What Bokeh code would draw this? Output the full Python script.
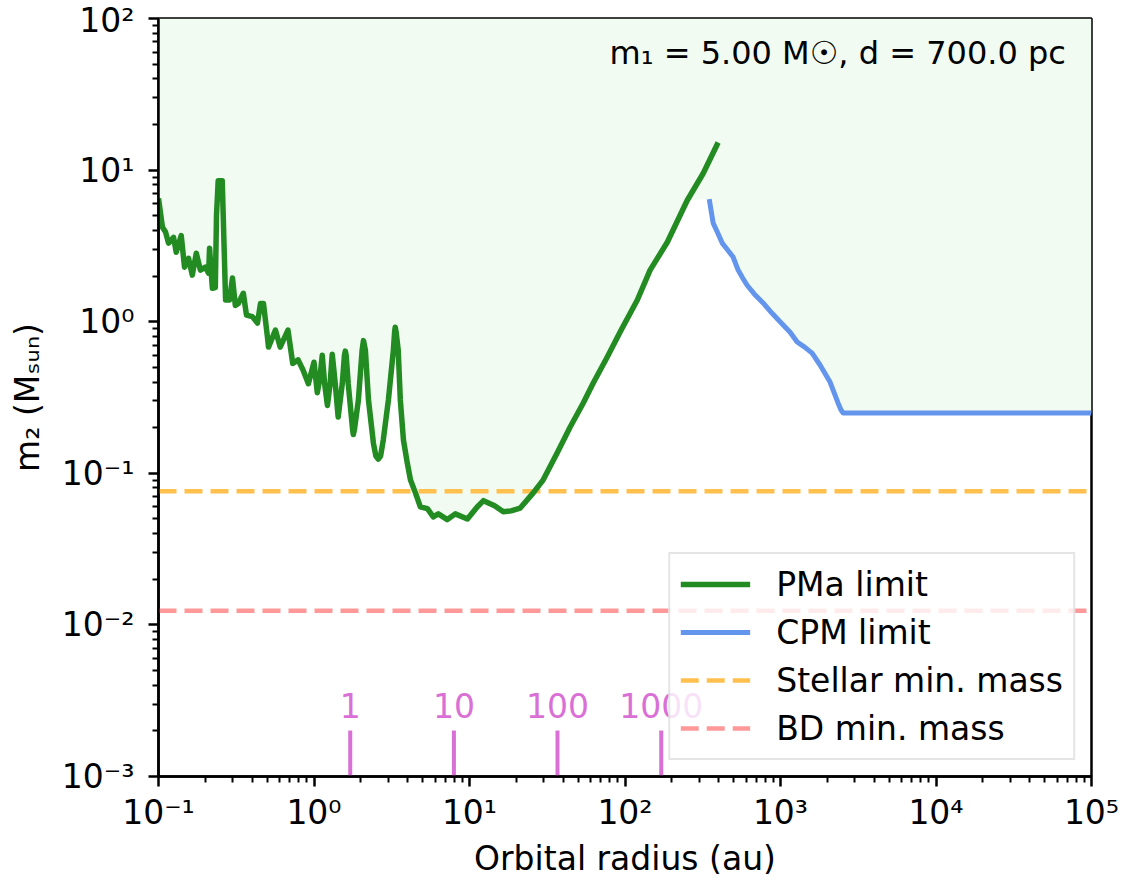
import numpy as np
from bokeh.plotting import figure
from bokeh.models import Range1d, FixedTicker, CustomJSTickFormatter, Legend, LegendItem, Label
from bokeh.embed import file_html
from bokeh.resources import INLINE
from bokeh.core.properties import value

# ---------------- data ----------------
pma_radius = [0.100, 0.106, 0.111, 0.116, 0.125, 0.130, 0.140, 0.147, 0.156, 0.165,
              0.175, 0.186, 0.200, 0.210, 0.213, 0.222, 0.232, 0.236, 0.242, 0.257,
              0.270, 0.286, 0.299, 0.312, 0.326, 0.351, 0.368, 0.401, 0.433, 0.453,
              0.473, 0.502, 0.510, 0.565, 0.606, 0.680, 0.730, 0.790, 0.850, 0.920,
              1.00, 1.05, 1.09, 1.13, 1.17, 1.22, 1.27, 1.31, 1.37, 1.43,
              1.52, 1.57, 1.59, 1.61, 1.66, 1.74, 1.77, 1.79, 1.82, 1.93,
              2.04, 2.08, 2.14, 2.24, 2.41, 2.50, 2.59, 2.68, 2.79, 3.01,
              3.24, 3.30, 3.33, 3.37, 3.48, 3.59, 3.76, 3.98, 4.17, 4.49,
              4.83, 5.36, 5.85, 6.3, 7.2, 8.1, 9.7, 11.2, 12.3, 14.5,
              16.5, 18.5, 21.2, 25.7, 29.8, 36.6, 44.4, 53.9, 62.5, 76.9,
              93.2, 120, 145, 187, 251, 318, 397]
pma_mass = [6.5, 4.2, 3.9, 3.3, 3.6, 2.87, 3.7, 2.29, 2.62, 2.03,
            2.83, 2.19, 2.29, 2.09, 3.05, 1.66, 1.68, 5.0, 8.5, 8.5,
            1.39, 1.39, 1.94, 1.28, 1.32, 1.54, 1.105, 1.08, 0.98, 1.32,
            1.32, 0.79, 0.68, 0.88, 0.68, 0.88, 0.53, 0.56, 0.48, 0.39,
            0.54, 0.34, 0.42, 0.60, 0.39, 0.28, 0.39, 0.61, 0.39, 0.235,
            0.39, 0.60, 0.64, 0.60, 0.39, 0.235, 0.195, 0.18, 0.195, 0.305,
            0.65, 0.75, 0.65, 0.305, 0.158, 0.130, 0.124, 0.130, 0.166, 0.305,
            0.65, 0.86, 0.92, 0.86, 0.65, 0.305, 0.166, 0.117, 0.0906, 0.0743,
            0.060, 0.0585, 0.0516, 0.054, 0.0495, 0.054, 0.050, 0.060, 0.066, 0.061,
            0.0557, 0.0565, 0.059, 0.0743, 0.0906, 0.136, 0.202, 0.291, 0.394, 0.585,
            0.86, 1.39, 2.19, 3.34, 6.3, 9.5, 15.2]

cpm_radius = [348, 369, 395, 422, 460, 496, 534, 570, 610, 680, 773, 880, 994, 1153, 1280,
              1430, 1597, 1796, 2083, 2344, 2450, 2523, 1e5]
cpm_mass = [6.43, 4.47, 3.85, 3.30, 2.95, 2.67, 2.19, 1.95, 1.74, 1.52, 1.33, 1.14, 1.00, 0.853, 0.735,
            0.68, 0.62, 0.518, 0.40, 0.291, 0.262, 0.25, 0.25]

stellar_min_mass = 0.076
bd_min_mass = 0.0124

period_labels = ["1", "10", "100", "1000"]
period_radius = [1.71, 7.94, 36.8, 171.0]

x_lo, x_hi = 1e-1, 1e5
y_lo, y_hi = 1e-3, 1e2
x_major = [1e-1, 1e0, 1e1, 1e2, 1e3, 1e4, 1e5]
y_major = [1e-3, 1e-2, 1e-1, 1e0, 1e1, 1e2]

annot_text = "m\u2081 = 5.00 M\u2609, d = 700.0 pc"

# ---------------- figure ----------------
FONT = "DejaVu Sans"
FS = "33px"
p = figure(width=1120, height=880, x_axis_type="log", y_axis_type="log",
           x_range=Range1d(x_lo, x_hi), y_range=Range1d(y_lo, y_hi),
           output_backend="svg", toolbar_location=None,
           min_border_left=158, min_border_right=29, min_border_top=18, min_border_bottom=103)
p.grid.visible = False
p.outline_line_color = "black"
p.outline_line_width = 2.5
p.outline_line_alpha = 1.0

# filled region (above the combined limit)
pma_r = np.array(pma_radius)
pma_m = np.array(pma_mass)
sel = pma_r < cpm_radius[0]
fill_x = np.concatenate([pma_r[sel], np.array(cpm_radius)])
fill_y = np.concatenate([np.minimum(pma_m[sel], cpm_mass[0]), np.array(cpm_mass)])
p.varea(x=fill_x, y1=fill_y, y2=np.full(len(fill_x), y_hi), fill_color="#f1fbf1")

# horizontal limits
r_st = p.line(x=[x_lo, x_hi], y=[stellar_min_mass] * 2, line_color="#ffc04d",
              line_width=4.5, line_dash="18 8")
r_bd = p.line(x=[x_lo, x_hi], y=[bd_min_mass] * 2, line_color="#ff9999",
              line_width=4.5, line_dash="18 8")

# curves
r_pma = p.line(x=pma_radius, y=pma_mass, line_color="#228b22", line_width=5.5,
               line_join="round")
r_cpm = p.line(x=cpm_radius, y=cpm_mass, line_color="#6495ed", line_width=5,
               line_join="round")

# period markers
p.segment(x0=period_radius, y0=[y_lo] * 4, x1=period_radius, y1=[0.00201] * 4,
          line_color="orchid", line_width=4)
p.text(x=period_radius, y=[0.00293] * 4, text=period_labels, text_align="center",
       text_baseline="alphabetic", text_font_size=FS, text_color="orchid",
       text_font=value(FONT))

# annotation
p.add_layout(Label(x=6.84e4, y=59, text=annot_text, text_align="right",
                   text_baseline="alphabetic", text_font_size="32px",
                   text_font=FONT, text_color="black"))

# axes
fmt = CustomJSTickFormatter(code="""
const e = Math.round(Math.log10(tick));
const m = {'-':'\u207b','0':'\u2070','1':'\u00b9','2':'\u00b2','3':'\u00b3','4':'\u2074','5':'\u2075','6':'\u2076','7':'\u2077','8':'\u2078','9':'\u2079'};
return '10' + String(e).split('').map(c => m[c]).join('');
""")


def minors(majors):
    out = []
    for d in majors[:-1]:
        for k in range(2, 10):
            out.append(k * d)
    return out


p.xaxis.ticker = FixedTicker(ticks=x_major, minor_ticks=minors(x_major))
p.yaxis.ticker = FixedTicker(ticks=y_major, minor_ticks=minors(y_major))
for ax in (p.xaxis[0], p.yaxis[0]):
    ax.formatter = fmt
    ax.major_tick_out = 10
    ax.major_tick_in = 0
    ax.minor_tick_out = 6
    ax.minor_tick_in = 0
    ax.major_tick_line_width = 2.5
    ax.minor_tick_line_width = 2
    ax.axis_line_width = 2.5
    ax.major_label_text_font = FONT
    ax.major_label_text_font_size = FS
    ax.major_label_text_color = "black"
    ax.axis_label_text_font = FONT
    ax.axis_label_text_font_size = FS
    ax.axis_label_text_font_style = "normal"
    ax.axis_label_text_color = "black"

p.xaxis.axis_label = "Orbital radius (au)"
p.xaxis.major_label_standoff = 6
p.xaxis.axis_label_standoff = 4
p.yaxis.axis_label = "m\u2082 (M\u209b\u1d64\u2099)"
p.yaxis.major_label_standoff = 14
p.yaxis.axis_label_standoff = 12

# legend
legend = Legend(items=[LegendItem(label="PMa limit", renderers=[r_pma]),
                       LegendItem(label="CPM limit", renderers=[r_cpm]),
                       LegendItem(label="Stellar min. mass", renderers=[r_st]),
                       LegendItem(label="BD min. mass", renderers=[r_bd])],
                location="bottom_right")
legend.label_text_font = FONT
legend.label_text_font_size = FS
legend.label_text_color = "black"
legend.glyph_width = 70
legend.glyph_height = 40
legend.label_height = 40
legend.spacing = 8
legend.padding = 10
legend.label_standoff = 26
legend.margin = 16
legend.border_line_color = "#cccccc"
legend.border_line_width = 2
legend.background_fill_alpha = 0.8
p.add_layout(legend)

open("out.html", "w").write(file_html(p, INLINE))
